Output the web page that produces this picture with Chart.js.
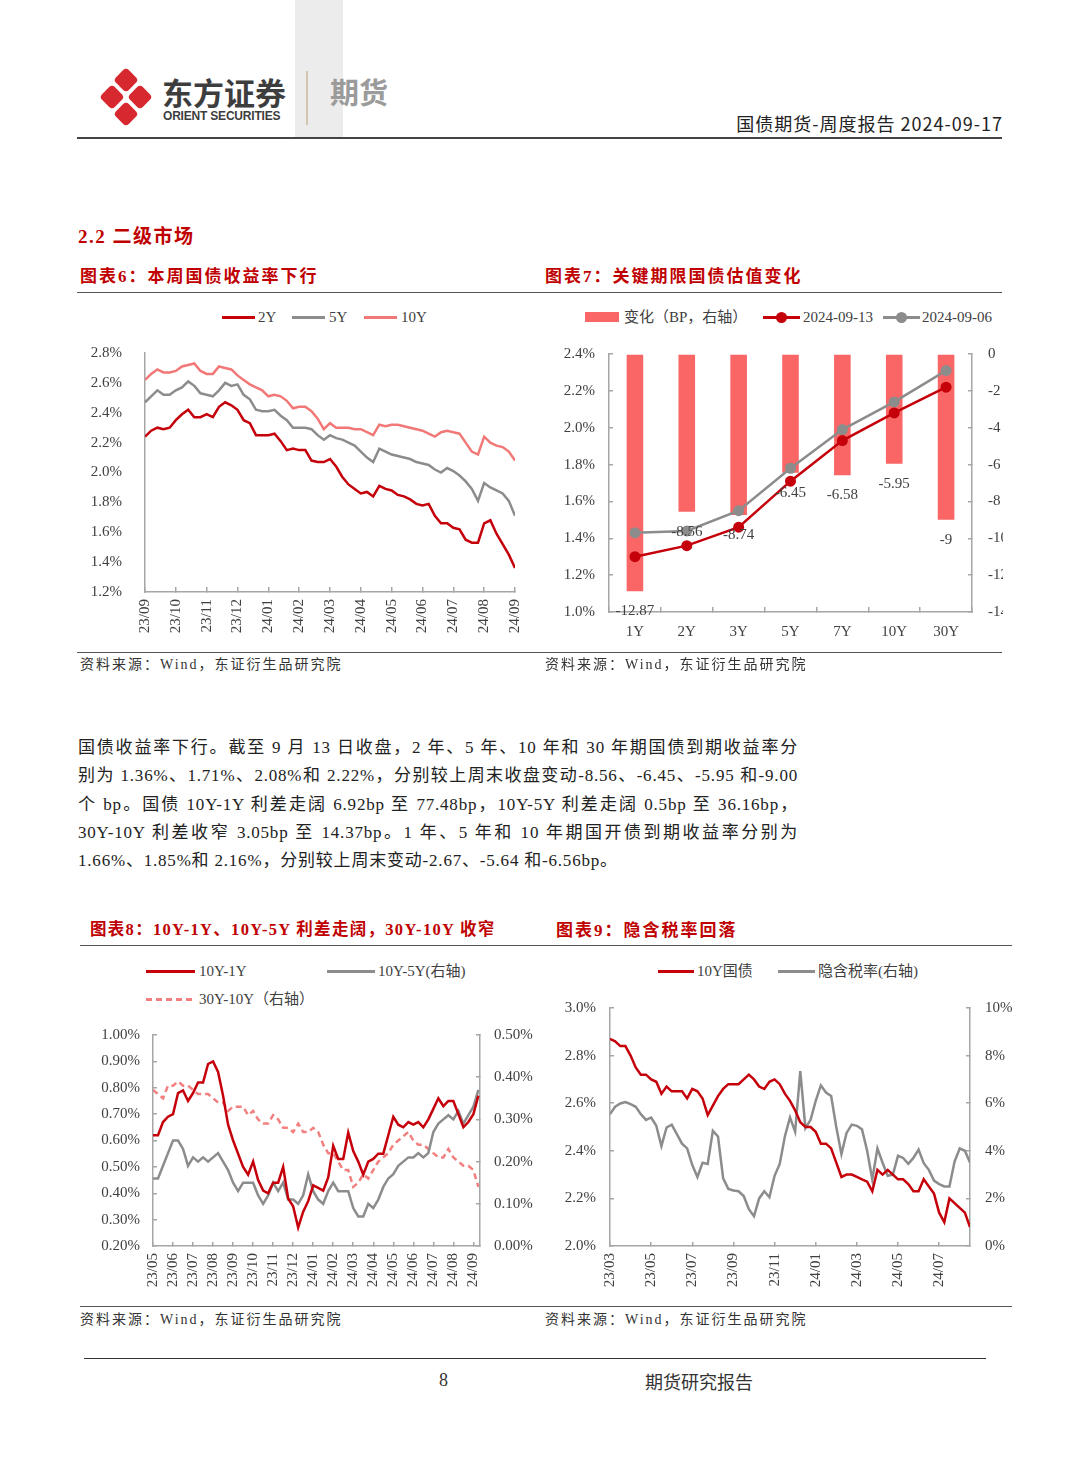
<!DOCTYPE html>
<html>
<head>
<meta charset="utf-8">
<script src="https://cdn.jsdelivr.net/npm/chart.js@4.4.1/dist/chart.umd.min.js"></script>
<style>
  body { margin: 0; background: #fff; }
  #page { position: relative; width: 1080px; height: 1466px; overflow: hidden; background: #fff;
          font-family: "Liberation Serif", "Noto Sans CJK SC", serif; color: #333; }
  .abs { position: absolute; }
  .hr { position: absolute; height: 0; border-top: 1.5px solid #555; }
  .title { position: absolute; font-size: 17px; line-height: 1; font-weight: 700; color: #c00000; letter-spacing: 2px; white-space: nowrap; }
  .src { position: absolute; font-size: 14px; line-height: 16px; color: #333; letter-spacing: 2px; white-space: nowrap; }
  .sw { position: absolute; height: 0; border-top: 3px solid; }
  .lt { position: absolute; font-size: 15px; line-height: 18px; color: #404040; white-space: nowrap; }
  .dot { position: absolute; width: 11px; height: 11px; border-radius: 50%; }
  .para div { height: 28.25px; line-height: 28.25px; width: 720px; white-space: nowrap; letter-spacing: 0.8px; }
  .para .j { text-align: justify; text-align-last: justify; }
  canvas { position: absolute; }
</style>
</head>
<body>
<div id="page">
  <!-- header -->
  <div class="abs" style="left:295px;top:0;width:48px;height:137px;background:#ececec"></div>
  <svg class="abs" style="left:0;top:0" width="400" height="140">
    <g fill="#d7282f">
      <rect x="-9" y="-9" width="18" height="18" rx="4" transform="translate(126 80) rotate(45)"/>
      <rect x="-9" y="-9" width="18" height="18" rx="4" transform="translate(112 97) rotate(45)"/>
      <rect x="-9" y="-9" width="18" height="18" rx="4" transform="translate(140 97) rotate(45)"/>
      <rect x="-9" y="-9" width="18" height="18" rx="4" transform="translate(126 114) rotate(45)"/>
    </g>
    <line x1="307" y1="71" x2="307" y2="125" stroke="#c8b896" stroke-width="1.5"/>
  </svg>
  <div class="abs" style="left:162px;top:76px;font:700 31px 'Noto Sans CJK SC';line-height:1;color:#3d3d3d">东方证券</div>
  <div class="abs" style="left:163px;top:110px;font:700 12px 'Liberation Sans';line-height:1;color:#3d3d3d;letter-spacing:-0.2px">ORIENT SECURITIES</div>
  <div class="abs" style="left:330px;top:77px;font:700 29px 'Noto Sans CJK SC';line-height:1;color:#9b9b9b">期货</div>
  <div class="abs" style="right:77px;top:114px;font:18px 'Noto Sans CJK SC';line-height:1;color:#222;letter-spacing:1px">国债期货-周度报告 2024-09-17</div>
  <div class="hr" style="left:77px;top:137px;width:925px;border-top:2px solid #444"></div>

  <div class="abs" style="left:78px;top:227px;font-size:19px;line-height:1;font-weight:700;color:#c00000;letter-spacing:1.5px">2.2 二级市场</div>

  <!-- row 1 titles -->
  <div class="title" style="left:80px;top:268px">图表6：本周国债收益率下行</div>
  <div class="title" style="left:545px;top:268px">图表7：关键期限国债估值变化</div>
  <div class="hr" style="left:77px;top:292px;width:925px"></div>

  <!-- chart 6 legend -->
  <div class="sw" style="left:222px;top:315.5px;width:33px;border-color:#c5000b"></div>
  <div class="lt" style="left:258px;top:308px">2Y</div>
  <div class="sw" style="left:292px;top:315.5px;width:33px;border-color:#8c8c8c"></div>
  <div class="lt" style="left:329px;top:308px">5Y</div>
  <div class="sw" style="left:364px;top:315.5px;width:33px;border-color:#f27878"></div>
  <div class="lt" style="left:401px;top:308px">10Y</div>

  <!-- chart 7 legend -->
  <div class="abs" style="left:585px;top:312px;width:34px;height:10px;background:#fa6666"></div>
  <div class="lt" style="left:624px;top:308px">变化（BP，右轴）</div>
  <div class="sw" style="left:763px;top:315.5px;width:37px;border-color:#c5000b"></div>
  <div class="dot" style="left:776px;top:311.5px;background:#c5000b"></div>
  <div class="lt" style="left:803px;top:308px">2024-09-13</div>
  <div class="sw" style="left:883px;top:315.5px;width:37px;border-color:#8c8c8c"></div>
  <div class="dot" style="left:896px;top:311.5px;background:#8c8c8c"></div>
  <div class="lt" style="left:922px;top:308px">2024-09-06</div>

  <canvas id="c6" width="468" height="321" style="left:77px;top:329px"></canvas>
  <canvas id="c7" width="463" height="320" style="left:540px;top:325px"></canvas>

  <div class="hr" style="left:77px;top:652px;width:925px"></div>
  <div class="src" style="left:80px;top:657px">资料来源：Wind，东证衍生品研究院</div>
  <div class="src" style="left:545px;top:657px">资料来源：Wind，东证衍生品研究院</div>

  <!-- paragraph -->
  <div class="abs para" style="left:78px;top:734px;font-size:17px;color:#222">
    <div class="j">国债收益率下行。截至 9 月 13 日收盘，2 年、5 年、10 年和 30 年期国债到期收益率分</div>
    <div class="j">别为 1.36%、1.71%、2.08%和 2.22%，分别较上周末收盘变动-8.56、-6.45、-5.95 和-9.00</div>
    <div class="j">个 bp。国债 10Y-1Y 利差走阔 6.92bp 至 77.48bp，10Y-5Y 利差走阔 0.5bp 至 36.16bp，</div>
    <div class="j">30Y-10Y 利差收窄 3.05bp 至 14.37bp。1 年、5 年和 10 年期国开债到期收益率分别为</div>
    <div>1.66%、1.85%和 2.16%，分别较上周末变动-2.67、-5.64 和-6.56bp。</div>
  </div>

  <!-- row 2 titles -->
  <div class="title" style="left:90px;top:922px;font-size:16.5px;letter-spacing:1.3px">图表8：10Y-1Y、10Y-5Y 利差走阔，30Y-10Y 收窄</div>
  <div class="title" style="left:556px;top:922px">图表9：隐含税率回落</div>
  <div class="hr" style="left:80px;top:945px;width:932px"></div>

  <!-- chart 8 legend -->
  <div class="sw" style="left:146px;top:969.5px;width:49px;border-color:#c5000b"></div>
  <div class="lt" style="left:199px;top:962px">10Y-1Y</div>
  <div class="sw" style="left:327px;top:969.5px;width:48px;border-color:#8c8c8c"></div>
  <div class="lt" style="left:378px;top:962px">10Y-5Y(右轴)</div>
  <div class="abs" style="left:146px;top:997.5px;width:49px;height:3px;background:repeating-linear-gradient(to right,#f28080 0 6px,transparent 6px 10px)"></div>
  <div class="lt" style="left:199px;top:990px">30Y-10Y（右轴）</div>

  <!-- chart 9 legend -->
  <div class="sw" style="left:658px;top:969.5px;width:36px;border-color:#c5000b"></div>
  <div class="lt" style="left:697px;top:962px">10Y国债</div>
  <div class="sw" style="left:778px;top:969.5px;width:37px;border-color:#8c8c8c"></div>
  <div class="lt" style="left:818px;top:962px">隐含税率(右轴)</div>

  <canvas id="c8" width="468" height="295" style="left:77px;top:1008px"></canvas>
  <canvas id="c9" width="467" height="323" style="left:545px;top:980px"></canvas>

  <div class="hr" style="left:80px;top:1306px;width:932px"></div>
  <div class="src" style="left:80px;top:1312px">资料来源：Wind，东证衍生品研究院</div>
  <div class="src" style="left:545px;top:1312px">资料来源：Wind，东证衍生品研究院</div>

  <!-- footer -->
  <div class="hr" style="left:84px;top:1358px;width:902px;border-top:1.5px solid #333"></div>
  <div class="abs" style="left:439px;top:1371px;font-size:18px;line-height:1;color:#333">8</div>
  <div class="abs" style="left:645px;top:1372px;font:18px 'Noto Sans CJK SC';line-height:1;color:#333">期货研究报告</div>
</div>

<script>
// chart 6: yields, 5 samples per month from 23/09
const months6 = ["23/09", "23/10", "23/11", "23/12", "24/01", "24/02", "24/03", "24/04", "24/05", "24/06", "24/07", "24/08", "24/09"];
const yield2Y = [2.24, 2.28, 2.30, 2.29, 2.30, 2.35, 2.39, 2.42, 2.37, 2.37,
  2.39, 2.37, 2.44, 2.47, 2.45, 2.42, 2.35, 2.33, 2.25, 2.25,
  2.25, 2.26, 2.21, 2.15, 2.16, 2.15, 2.15, 2.08, 2.07, 2.07,
  2.09, 2.04, 1.97, 1.92, 1.89, 1.86, 1.87, 1.84, 1.91, 1.89,
  1.88, 1.85, 1.84, 1.82, 1.79, 1.78, 1.79, 1.71, 1.66, 1.66,
  1.63, 1.62, 1.55, 1.53, 1.53, 1.66, 1.68, 1.59, 1.52, 1.45, 1.36];
const yield5Y = [2.47, 2.51, 2.55, 2.52, 2.52, 2.55, 2.57, 2.61, 2.58, 2.53,
  2.52, 2.51, 2.55, 2.60, 2.58, 2.59, 2.52, 2.49, 2.42, 2.41,
  2.41, 2.42, 2.38, 2.35, 2.30, 2.30, 2.30, 2.29, 2.25, 2.22,
  2.25, 2.23, 2.22, 2.20, 2.18, 2.14, 2.10, 2.07, 2.16, 2.14,
  2.12, 2.11, 2.10, 2.09, 2.07, 2.06, 2.05, 2.02, 2.00, 2.03,
  2.01, 1.98, 1.94, 1.89, 1.81, 1.93, 1.90, 1.88, 1.86, 1.81, 1.71];
const yield10Y = [2.62, 2.66, 2.69, 2.67, 2.67, 2.68, 2.71, 2.72, 2.73, 2.68,
  2.66, 2.66, 2.71, 2.70, 2.69, 2.65, 2.62, 2.59, 2.57, 2.55,
  2.51, 2.52, 2.51, 2.48, 2.43, 2.44, 2.44, 2.41, 2.36, 2.29,
  2.33, 2.30, 2.30, 2.30, 2.29, 2.29, 2.27, 2.25, 2.32, 2.31,
  2.32, 2.32, 2.31, 2.30, 2.29, 2.28, 2.26, 2.24, 2.27, 2.28,
  2.27, 2.26, 2.20, 2.14, 2.12, 2.24, 2.20, 2.18, 2.17, 2.14, 2.08];

// chart 7: key tenors
const tenors = ["1Y", "2Y", "3Y", "5Y", "7Y", "10Y", "30Y"];
const changeBp = [-12.87, -8.56, -8.74, -6.45, -6.58, -5.95, -9];
const ytm0913 = [1.30, 1.36, 1.46, 1.71, 1.93, 2.08, 2.22];
const ytm0906 = [1.43, 1.44, 1.55, 1.78, 1.99, 2.14, 2.31];

// chart 8: spreads, 4 samples per month from 23/05
const months8 = ["23/05", "23/06", "23/07", "23/08", "23/09", "23/10", "23/11", "23/12", "24/01",
  "24/02", "24/03", "24/04", "24/05", "24/06", "24/07", "24/08", "24/09"];
const spread10y1y = [0.62, 0.62, 0.67, 0.69, 0.70, 0.78, 0.79, 0.75, 0.78, 0.82,
  0.82, 0.89, 0.90, 0.86, 0.77, 0.66, 0.60, 0.55, 0.50, 0.47,
  0.52, 0.45, 0.41, 0.40, 0.44, 0.44, 0.50, 0.38, 0.35, 0.27,
  0.33, 0.37, 0.43, 0.42, 0.41, 0.46, 0.58, 0.53, 0.53, 0.63,
  0.56, 0.52, 0.47, 0.52, 0.53, 0.55, 0.55, 0.62, 0.69, 0.66,
  0.65, 0.67, 0.66, 0.67, 0.65, 0.68, 0.72, 0.76, 0.73, 0.75,
  0.75, 0.70, 0.65, 0.67, 0.70, 0.77];
const spread10y5y = [0.16, 0.16, 0.19, 0.22, 0.25, 0.25, 0.23, 0.19, 0.21, 0.20,
  0.21, 0.20, 0.21, 0.22, 0.20, 0.18, 0.15, 0.13, 0.15, 0.15,
  0.15, 0.12, 0.10, 0.12, 0.15, 0.13, 0.15, 0.11, 0.11, 0.10,
  0.12, 0.17, 0.13, 0.11, 0.10, 0.13, 0.15, 0.13, 0.13, 0.13,
  0.09, 0.07, 0.07, 0.10, 0.09, 0.11, 0.14, 0.16, 0.17, 0.19,
  0.20, 0.21, 0.21, 0.22, 0.21, 0.22, 0.27, 0.29, 0.30, 0.31,
  0.30, 0.32, 0.29, 0.31, 0.33, 0.37];
const spread30y10y = [0.37, 0.36, 0.35, 0.38, 0.38, 0.39, 0.38, 0.38, 0.37, 0.36,
  0.36, 0.36, 0.35, 0.34, 0.34, 0.32, 0.33, 0.33, 0.33, 0.31,
  0.32, 0.30, 0.29, 0.29, 0.31, 0.30, 0.28, 0.28, 0.27, 0.29,
  0.27, 0.27, 0.28, 0.27, 0.24, 0.22, 0.22, 0.20, 0.18, 0.18,
  0.14, 0.15, 0.17, 0.16, 0.18, 0.20, 0.21, 0.22, 0.24, 0.25,
  0.26, 0.27, 0.25, 0.24, 0.24, 0.23, 0.22, 0.21, 0.21, 0.23,
  0.21, 0.20, 0.19, 0.19, 0.18, 0.14];

// chart 9: 10Y and implied tax rate, 4 samples per month from 23/03
const months9 = ["23/03", "23/05", "23/07", "23/09", "23/11", "24/01", "24/03", "24/05", "24/07"];
const cgb10Y = [2.87, 2.86, 2.84, 2.84, 2.80, 2.75, 2.72, 2.72, 2.70, 2.69,
  2.64, 2.67, 2.65, 2.65, 2.65, 2.62, 2.66, 2.65, 2.62, 2.55,
  2.59, 2.63, 2.66, 2.68, 2.68, 2.68, 2.70, 2.72, 2.70, 2.67,
  2.66, 2.69, 2.70, 2.68, 2.64, 2.61, 2.57, 2.52, 2.50, 2.50,
  2.48, 2.43, 2.43, 2.41, 2.35, 2.29, 2.30, 2.30, 2.29, 2.28,
  2.27, 2.23, 2.32, 2.30, 2.32, 2.30, 2.28, 2.28, 2.26, 2.23,
  2.23, 2.28, 2.25, 2.22, 2.14, 2.10, 2.20, 2.18, 2.16, 2.14, 2.08];
const taxRate = [5.54, 5.85, 5.99, 6.05, 5.96, 5.85, 5.54, 5.30, 5.40, 5.05,
  4.20, 4.98, 5.10, 4.70, 4.30, 4.10, 3.40, 2.90, 3.50, 3.45,
  4.84, 4.60, 2.85, 2.40, 2.33, 2.30, 2.10, 1.55, 1.25, 2.00,
  2.30, 2.05, 2.95, 3.45, 4.60, 5.40, 4.80, 7.35, 4.95, 5.30,
  6.10, 6.75, 6.45, 6.30, 5.00, 3.86, 4.75, 5.10, 5.05, 4.90,
  4.00, 2.80, 4.10, 3.50, 2.95, 3.00, 3.79, 3.70, 3.45, 3.70,
  4.05, 3.48, 3.20, 2.75, 2.60, 2.50, 2.50, 3.55, 4.10, 4.00, 3.51];

const AXIS = "#a6a6a6";
const RED = "#c5000b";
const GRAY = "#8c8c8c";
const PINK = "#f27878";
const BAR = "#fa6666";

Chart.defaults.font.family = '"Liberation Serif", "Noto Sans CJK SC", serif';
Chart.defaults.font.size = 15;
Chart.defaults.color = "#404040";
Chart.defaults.animation = false;
Chart.defaults.responsive = false;
Chart.defaults.plugins.legend.display = false;
Chart.defaults.plugins.tooltip.enabled = false;

const toPoints = (values, perMonth) => values.map((v, i) => ({ x: i / perMonth, y: v }));
const fixW = (w) => (s) => { s.width = w; };
const fixH = (h) => (s) => { s.height = h; };
const pct = (d) => (v) => v.toFixed(d) + "%";
const border = { color: AXIS, width: 1.5 };
const inside = (len) => ({ drawOnChartArea: false, tickLength: -len, color: AXIS, lineWidth: 1.5 });

function line(values, perMonth, color, axis) {
  return { data: toPoints(values, perMonth), borderColor: color, borderWidth: 2.5,
    pointRadius: 0, yAxisID: axis || "y" };
}

function renderChart6() {
  new Chart(document.getElementById("c6"), {
    type: "line",
    data: { datasets: [line(yield10Y, 5, PINK), line(yield5Y, 5, GRAY), line(yield2Y, 5, RED)] },
    options: {
      devicePixelRatio: 1,
      layout: { padding: { top: 12, right: 8 } },
      scales: {
        x: {
          type: "linear", min: 0, max: 12,
          afterBuildTicks: (s) => { s.ticks = months6.map((_, i) => ({ value: i })); },
          ticks: { autoSkip: false, minRotation: 90, maxRotation: 90, padding: 12, callback: (v) => months6[v] },
          grid: inside(5), border, afterFit: fixH(58),
        },
        y: {
          min: 1.2, max: 2.8,
          ticks: { stepSize: 0.2, padding: 15, callback: pct(1) },
          grid: { display: false }, border, afterFit: fixW(68),
        },
      },
    },
  });
}

const barLabels = {
  id: "barLabels",
  afterDatasetsDraw(chart) {
    const meta = chart.getDatasetMeta(2);
    const ctx = chart.ctx;
    ctx.save();
    ctx.font = '15px "Liberation Serif"';
    ctx.fillStyle = "#404040";
    ctx.textAlign = "center";
    ctx.textBaseline = "middle";
    meta.data.forEach((bar, i) => ctx.fillText(String(changeBp[i]), bar.x, bar.y + 20));
    ctx.restore();
  },
};

function renderChart7() {
  const dotLine = (values, color, order) => ({
    type: "line", data: values, yAxisID: "y", borderColor: color, backgroundColor: color,
    borderWidth: 2.5, pointRadius: 5.5, pointBorderWidth: 0, order,
  });
  new Chart(document.getElementById("c7"), {
    type: "bar",
    data: {
      labels: tenors,
      datasets: [
        dotLine(ytm0913, RED, 1),
        dotLine(ytm0906, GRAY, 2),
        { type: "bar", data: changeBp, yAxisID: "y2", backgroundColor: BAR,
          barPercentage: 0.32, categoryPercentage: 1, order: 3 },
      ],
    },
    plugins: [barLabels],
    options: {
      devicePixelRatio: 1,
      layout: { padding: { top: 13 } },
      scales: {
        x: { grid: Object.assign(inside(5), { offset: true }), border, ticks: { padding: 16 }, afterFit: fixH(33) },
        y: {
          position: "left", min: 1.0, max: 2.4,
          ticks: { stepSize: 0.2, padding: 18, callback: pct(1) },
          grid: inside(4), border, afterFit: fixW(69),
        },
        y2: {
          position: "right", min: -14, max: 0,
          ticks: { stepSize: 2, padding: 20 },
          grid: inside(4), border, afterFit: fixW(31),
        },
      },
    },
  });
}

function renderChart8() {
  const dashed = line(spread30y10y, 4, "#f28080", "y2");
  dashed.borderDash = [6, 4];
  new Chart(document.getElementById("c8"), {
    type: "line",
    data: { datasets: [line(spread10y1y, 4, RED), line(spread10y5y, 4, GRAY, "y2"), dashed] },
    options: {
      devicePixelRatio: 1,
      layout: { padding: { top: 19 } },
      scales: {
        x: {
          type: "linear", min: 0, max: 16.33,
          afterBuildTicks: (s) => { s.ticks = months8.map((_, i) => ({ value: i })); },
          ticks: { autoSkip: false, minRotation: 90, maxRotation: 90, padding: 11, callback: (v) => months8[v] },
          grid: inside(4), border, afterFit: fixH(57),
        },
        y: {
          position: "left", min: 0.2, max: 1.0,
          ticks: { stepSize: 0.1, padding: 17, callback: pct(2) },
          grid: inside(4), border, afterFit: fixW(76),
        },
        y2: {
          position: "right", min: 0, max: 0.5,
          ticks: { stepSize: 0.1, padding: 18, callback: pct(2) },
          grid: inside(4), border, afterFit: fixW(65),
        },
      },
    },
  });
}

function renderChart9() {
  new Chart(document.getElementById("c9"), {
    type: "line",
    data: { datasets: [line(cgb10Y, 4, RED), line(taxRate, 4, GRAY, "y2")] },
    options: {
      devicePixelRatio: 1,
      layout: { padding: { top: 17 } },
      scales: {
        x: {
          type: "linear", min: 0, max: 17.5,
          afterBuildTicks: (s) => { s.ticks = months9.map((_, i) => ({ value: i * 2 })); },
          ticks: { autoSkip: false, minRotation: 90, maxRotation: 90, padding: 11, callback: (v) => months9[v / 2] },
          grid: inside(4), border, afterFit: fixH(57),
        },
        y: {
          position: "left", min: 2.0, max: 3.0,
          ticks: { stepSize: 0.2, padding: 18, callback: pct(1) },
          grid: inside(4), border, afterFit: fixW(65),
        },
        y2: {
          position: "right", min: 0, max: 10,
          ticks: { stepSize: 2, padding: 19, callback: (v) => v + "%" },
          grid: inside(4), border, afterFit: fixW(42),
        },
      },
    },
  });
}

function main() {
  renderChart6();
  renderChart7();
  renderChart8();
  renderChart9();
}

document.addEventListener("DOMContentLoaded", () => main());
</script>
</body>
</html>
